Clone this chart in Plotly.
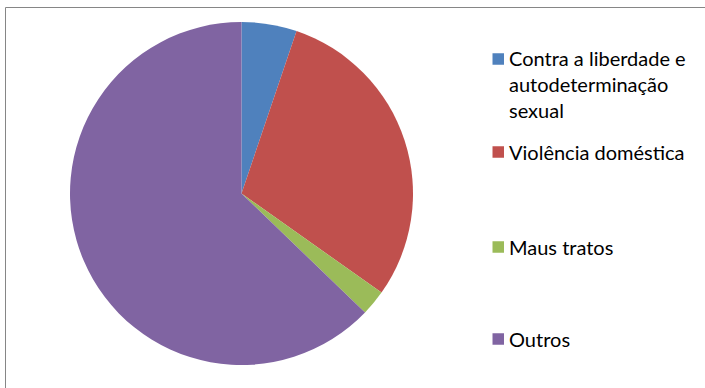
import plotly.graph_objects as go

categories = ["Contra a liberdade e<br>autodeterminação<br>sexual",
              "Violência doméstica", "Maus tratos", "Outros"]
values = [5.2, 29.6, 2.4, 62.8]
colors = ["#4F81BD", "#C0504D", "#9BBB59", "#8064A2"]

W, H = 705, 388
FONT = dict(family="Lato, Carlito, Calibri, sans-serif", size=20, color="black")

fig = go.Figure()
fig.add_trace(go.Pie(
    labels=categories, values=values, sort=False, direction="clockwise",
    rotation=0, marker=dict(colors=colors, line=dict(width=0)),
    textinfo="none", hoverinfo="label+percent", showlegend=False,
    domain=dict(x=[70 / W, 413 / W], y=[1 - 365 / H, 1 - 22 / H]),
))

# legend drawn as key squares + text, spaced like the original
key_centers = [59, 152, 247, 339]      # y of each key square (px from top)
text_centers = [84, 152, 247, 339]     # y of each label block (px from top)
annotations, shapes = [], []
for cat, col, ky, ty in zip(categories, colors, key_centers, text_centers):
    shapes.append(dict(type="rect", xref="paper", yref="paper",
                       x0=492.5 / W, x1=504 / W,
                       y0=1 - (ky + 5.75) / H, y1=1 - (ky - 5.75) / H,
                       fillcolor=col, line=dict(width=0)))
    annotations.append(dict(text=cat, xref="paper", yref="paper",
                            x=507 / W, y=1 - ty / H, xanchor="left",
                            yanchor="middle", align="left", showarrow=False,
                            font=FONT))

border = dict(color="#868686", width=1)
shapes += [
    dict(type="line", xref="paper", yref="paper",
         x0=5.5 / W, x1=1, y0=1 - 7.5 / H, y1=1 - 7.5 / H,
         line=border, layer="below"),
    dict(type="line", xref="paper", yref="paper",
         x0=5.5 / W, x1=5.5 / W, y0=0, y1=1 - 7.5 / H,
         line=border, layer="below"),
]

fig.update_layout(
    width=W, height=H, margin=dict(l=0, r=0, t=0, b=0, autoexpand=False),
    paper_bgcolor="white", showlegend=False,
    annotations=annotations, shapes=shapes,
)

fig.write_html("out.html")
